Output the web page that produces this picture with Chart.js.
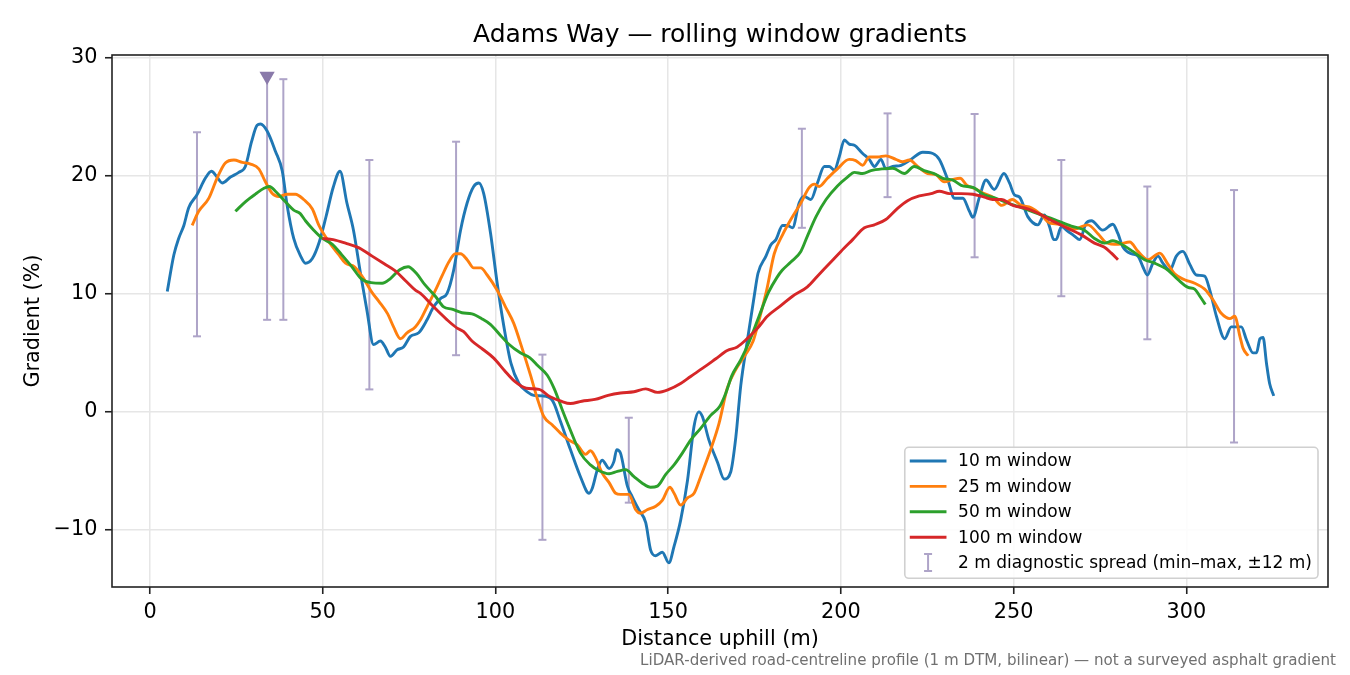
<!DOCTYPE html>
<html>
<head>
<meta charset="utf-8">
<title>Adams Way — rolling window gradients</title>
<script src="https://cdn.jsdelivr.net/npm/chart.js@4.4.1/dist/chart.umd.min.js"></script>
<style>
    html, body { margin: 0; padding: 0; background: #fff; }
    #chart { display: block; }
</style>
</head>
<body>
<canvas id="chart" width="1350" height="675"></canvas>
<script>
// Chart data
const windowLabels = ["10 m window", "25 m window", "50 m window", "100 m window"];
const spreadLabel = "2 m diagnostic spread (min\u2013max, \u00b112 m)";

const dist10 = [5.0, 6.9, 8.3, 9.8, 11.2, 13.6, 16.0, 17.8, 19.4, 20.9, 23.3, 25.7, 27.6, 29.4, 31.0, 32.0, 33.9, 36.3, 38.3, 39.7,
    41.6, 43.6, 45.0, 47.0, 49.0, 51.0, 53.0, 55.0, 57.0, 58.9, 60.9, 62.8, 64.7, 66.7, 68.1, 69.6, 71.5, 73.4, 75.4, 77.8,
    80.2, 82.1, 84.1, 86.0, 87.9, 89.9, 91.8, 93.7, 95.2, 96.6, 98.6, 100.5, 102.4, 104.5, 106.8, 109.2, 111.1, 113.5, 116.4, 118.8,
    121.7, 124.6, 127.1, 128.0, 129.5, 130.9, 132.9, 134.3, 135.1, 136.2, 138.2, 139.6, 141.5, 143.5, 144.9, 146.4, 148.3, 150.2, 151.7, 153.6,
    155.6, 157.5, 158.9, 159.9, 161.8, 164.3, 166.2, 168.1, 169.6, 171.0, 172.9, 174.9, 176.0, 178.3, 179.7, 181.2, 183.1, 184.5, 186.0, 187.9,
    189.4, 191.3, 193.2, 195.2, 196.6, 198.1, 199.5, 201.0, 202.4, 203.9, 206.3, 208.2, 209.7, 211.6, 213.0, 215.0, 217.4, 220.3, 223.7, 226.6,
    228.5, 230.9, 232.9, 235.3, 237.2, 238.2, 240.1, 242.0, 244.4, 247.2, 248.8, 250.2, 251.7, 254.1, 257.0, 258.9, 260.4, 261.6, 262.3, 263.8,
    265.7, 267.6, 269.1, 271.0, 272.5, 275.8, 278.7, 280.2, 281.6, 284.1, 286.0, 287.4, 288.7, 290.3, 291.8, 293.2, 295.2, 297.1, 299.0, 301.0,
    302.9, 305.3, 306.8, 308.7, 311.1, 313.0, 315.9, 317.4, 319.3, 320.3, 321.3, 322.2, 323.2, 324.1, 325.3];
const grad10 = [10.2, 13.3, 14.7, 15.8, 17.3, 18.4, 19.8, 20.4, 19.9, 19.4, 19.9, 20.3, 20.8, 22.9, 24.3, 24.4, 23.8, 22.1, 20.4, 17.5,
    14.7, 13.2, 12.6, 13.0, 14.4, 16.6, 19.0, 20.4, 17.7, 15.4, 11.8, 8.6, 5.7, 6.0, 5.5, 4.7, 5.25, 5.5, 6.4, 6.7,
    7.8, 8.9, 9.6, 10.05, 12.0, 15.4, 17.7, 19.1, 19.4, 18.5, 15.1, 10.9, 7.3, 4.1, 2.4, 1.7, 1.4, 1.35, 1.0, -0.8,
    -3.2, -5.5, -6.9, -6.5, -4.9, -4.1, -4.8, -4.2, -3.2, -3.5, -6.3, -7.2, -8.3, -9.4, -11.7, -12.2, -11.9, -12.8, -11.4, -9.2,
    -5.8, -1.2, 0.0, -0.4, -2.4, -4.3, -5.7, -5.1, -2.1, 2.2, 6.0, 9.8, 11.75, 13.2, 14.15, 14.6, 15.8, 15.8, 15.6, 17.7,
    18.25, 18.0, 19.4, 20.8, 20.8, 20.5, 21.6, 23.05, 22.7, 22.6, 21.9, 21.4, 20.8, 21.4, 20.6, 20.8, 20.9, 21.4, 22.0, 21.9,
    21.4, 19.7, 18.1, 18.1, 17.0, 16.5, 18.2, 19.65, 18.85, 20.2, 19.4, 18.4, 18.2, 16.55, 15.85, 16.7, 15.7, 14.6, 14.6, 15.7,
    15.3, 14.9, 14.6, 16.0, 16.2, 15.4, 15.9, 15.1, 14.0, 13.4, 13.2, 12.3, 11.6, 12.6, 13.2, 12.6, 12.0, 13.2, 13.6, 12.5,
    11.6, 11.5, 10.3, 8.1, 6.2, 7.2, 7.2, 6.1, 5.0, 5.0, 6.2, 6.3, 4.1, 2.4, 1.35];

const dist25 = [12.2, 14.1, 17.0, 19.4, 21.8, 24.3, 26.7, 29.1, 31.5, 33.4, 35.4, 37.3, 39.7, 42.1, 44.5, 47.0, 48.9, 51.8, 54.7, 56.6,
    59.2, 61.6, 64.3, 66.3, 68.8, 70.5, 72.5, 74.4, 76.8, 78.3, 80.2, 82.6, 84.5, 86.5, 88.4, 89.9, 91.8, 93.7, 95.7, 97.6,
    100.5, 102.9, 105.3, 107.7, 110.1, 112.1, 114.0, 116.4, 118.8, 121.3, 123.7, 126.1, 127.5, 129.0, 130.9, 132.9, 134.8, 136.2, 138.6, 140.6,
    142.0, 143.9, 146.4, 148.3, 150.5, 151.7, 153.6, 155.6, 157.5, 159.4, 162.3, 164.7, 167.1, 169.6, 172.0, 174.6, 176.6, 178.5, 180.7, 183.1,
    185.5, 188.4, 190.8, 192.3, 193.7, 196.1, 199.0, 202.4, 204.3, 206.3, 208.2, 210.6, 213.0, 215.9, 217.9, 219.8, 222.2, 225.1, 227.5, 229.9,
    232.4, 234.5, 236.5, 238.9, 241.5, 244.0, 246.6, 249.6, 252.2, 255.1, 258.0, 260.4, 263.8, 267.6, 271.5, 274.4, 276.8, 280.2, 283.6, 286.0,
    288.9, 292.3, 294.7, 296.6, 299.5, 302.4, 305.3, 307.7, 310.1, 312.6, 314.0, 315.5, 316.4, 317.9];
const grad25 = [15.8, 17.0, 18.1, 19.8, 21.1, 21.35, 21.15, 21.0, 20.6, 19.5, 18.5, 18.25, 18.45, 18.45, 18.0, 17.2, 15.8, 14.4, 13.3, 12.6,
    12.3, 11.4, 10.1, 9.35, 8.3, 7.2, 6.2, 6.7, 7.2, 7.8, 8.9, 10.3, 11.5, 12.7, 13.4, 13.4, 12.9, 12.2, 12.2, 11.6,
    10.3, 8.9, 7.5, 5.4, 3.15, 1.15, -0.4, -1.1, -1.8, -2.4, -2.8, -3.6, -3.3, -3.9, -5.2, -6.0, -6.9, -7.0, -7.0, -8.3,
    -8.6, -8.3, -8.0, -7.5, -6.4, -6.9, -7.9, -7.3, -6.9, -5.5, -3.2, -1.0, 2.0, 3.6, 4.7, 6.0, 8.1, 10.3, 13.4, 15.0,
    16.3, 17.7, 19.0, 19.3, 19.1, 19.8, 20.6, 21.4, 21.3, 20.9, 21.6, 21.6, 21.7, 21.4, 21.2, 21.35, 20.8, 20.2, 20.1, 19.5,
    19.7, 19.8, 19.2, 18.9, 18.5, 18.2, 17.5, 18.0, 17.5, 17.3, 16.7, 16.0, 15.9, 15.5, 15.85, 15.1, 14.35, 14.2, 14.4, 13.6,
    12.9, 13.45, 12.5, 11.7, 11.2, 10.9, 10.4, 9.5, 8.35, 7.9, 8.1, 6.4, 5.4, 4.75];

const dist50 = [24.7, 27.6, 30.5, 33.0, 34.6, 36.3, 39.2, 41.6, 43.5, 45.0, 47.4, 49.9, 52.8, 55.4, 58.3, 61.1, 64.0, 67.2, 69.6, 72.3,
    74.7, 77.1, 79.5, 82.6, 85.0, 87.4, 90.3, 93.2, 96.0, 98.6, 101.4, 103.8, 107.2, 109.9, 112.3, 115.0, 117.1, 119.3, 121.2, 124.6,
    127.5, 130.0, 132.9, 135.3, 137.7, 140.1, 142.5, 144.9, 146.9, 149.3, 151.7, 154.1, 156.5, 159.4, 162.3, 164.9, 166.7, 168.4, 171.0, 173.6,
    176.3, 179.0, 181.5, 183.0, 185.5, 188.4, 190.3, 192.8, 195.7, 199.0, 201.9, 203.9, 206.3, 208.7, 212.1, 215.0, 218.4, 221.2, 224.1, 227.0,
    229.5, 232.4, 234.8, 238.4, 241.5, 244.9, 248.8, 252.4, 257.0, 261.8, 266.7, 270.5, 273.4, 276.3, 278.7, 281.6, 284.5, 287.9, 290.8, 294.7,
    297.6, 300.5, 302.4, 303.9, 305.5];
const grad50 = [17.0, 17.8, 18.45, 18.95, 19.1, 18.7, 17.8, 17.1, 16.8, 16.2, 15.4, 14.7, 14.2, 13.35, 12.35, 11.3, 10.95, 10.9, 11.3, 12.05,
    12.3, 11.75, 10.8, 9.8, 8.9, 8.7, 8.4, 8.3, 7.9, 7.4, 6.5, 5.75, 5.0, 4.6, 3.9, 3.1, 1.9, 0.2, -1.2, -3.5,
    -4.5, -5.0, -5.25, -5.05, -4.9, -5.5, -6.05, -6.4, -6.3, -5.3, -4.5, -3.5, -2.4, -1.4, -0.3, 0.45, 1.6, 3.05, 4.4, 6.05,
    8.1, 10.1, 11.4, 12.0, 12.7, 13.6, 14.9, 16.55, 18.0, 19.15, 19.9, 20.3, 20.2, 20.45, 20.6, 20.65, 20.2, 20.8, 20.45, 20.2,
    19.8, 19.65, 19.2, 19.0, 18.4, 18.1, 17.65, 17.3, 16.8, 16.3, 15.75, 15.4, 14.7, 14.3, 14.5, 14.15, 13.6, 12.9, 12.6, 12.0,
    11.2, 10.55, 10.4, 9.8, 9.1];

const dist100 = [49.9, 53.0, 56.6, 60.5, 64.3, 67.8, 71.0, 74.2, 76.9, 78.3, 82.1, 86.0, 88.9, 90.8, 93.2, 95.9, 99.5, 102.6, 105.5, 108.9,
    112.6, 115.7, 119.0, 121.7, 125.0, 128.8, 132.6, 136.2, 140.1, 143.5, 146.9, 150.2, 153.6, 156.5, 160.0, 163.8, 167.1, 170.0, 172.5, 175.9,
    178.7, 182.6, 186.0, 190.3, 193.2, 197.1, 200.0, 203.4, 206.8, 209.7, 213.0, 216.4, 219.3, 222.7, 226.1, 228.5, 231.4, 234.8, 238.2, 241.5,
    243.9, 246.4, 249.8, 254.1, 258.0, 261.8, 265.7, 269.6, 273.4, 276.3, 278.3, 280.2];
const grad100 = [14.7, 14.6, 14.3, 13.9, 13.2, 12.55, 11.95, 11.05, 10.3, 10.05, 8.9, 7.8, 7.1, 6.8, 6.0, 5.4, 4.55, 3.5, 2.6, 2.0,
    1.9, 1.3, 0.9, 0.7, 0.9, 1.05, 1.4, 1.6, 1.7, 1.95, 1.65, 1.9, 2.4, 3.0, 3.7, 4.5, 5.2, 5.5, 6.1, 7.1,
    8.1, 9.0, 9.8, 10.6, 11.5, 12.7, 13.6, 14.6, 15.6, 15.85, 16.3, 17.25, 17.9, 18.3, 18.5, 18.7, 18.5, 18.5, 18.45, 18.2,
    18.0, 18.0, 17.5, 17.2, 16.7, 16.1, 15.55, 15.0, 14.3, 13.95, 13.45, 12.9];

// 2 m diagnostic spread: min-max bars (the second one runs off the top of the axis)
const spreadDist = [13.6, 33.9, 38.6, 63.5, 88.6, 113.6, 138.6, 188.7, 213.5, 238.7, 263.8, 288.7, 313.8];
const spreadMin = [6.4, 7.8, 7.8, 1.9, 4.8, -10.85, -7.7, 15.6, 18.2, 13.1, 9.8, 6.15, -2.6];
const spreadMax = [23.7, 28.45, 28.2, 21.35, 22.9, 4.85, -0.5, 24.0, 25.3, 25.25, 21.35, 19.1, 18.8];
const spreadClipped = [false, true, false, false, false, false, false, false, false, false, false, false, false];

const xTicks = [0, 50, 100, 150, 200, 250, 300];
const yTicks = [-10, 0, 10, 20, 30];

const FONT = "'DejaVu Sans', 'Liberation Sans', sans-serif";
const lineColors = ['#1f77b4', '#ff7f0e', '#2ca02c', '#d62728'];
const spreadColor = '#aea4c8';
const clipColor = '#8a7aaa';

// Build {x, y} point lists
function toPoints(xs, ys) {
    return xs.map((x, i) => ({ x: x, y: ys[i] }));
}

// Error bars as one line dataset: bottom, top, gap
function spreadPoints() {
    const pts = [];
    spreadDist.forEach((x, i) => {
        pts.push({ x: x, y: spreadMin[i] });
        pts.push({ x: x, y: spreadMax[i] });
        pts.push({ x: x, y: null });
    });
    return pts;
}

function isClippedTop(ctx) {
    return ctx.dataIndex % 3 === 1 && spreadClipped[Math.floor(ctx.dataIndex / 3)];
}

function lineDataset(i, xs, ys) {
    return {
        label: windowLabels[i],
        data: toPoints(xs, ys),
        borderColor: lineColors[i],
        backgroundColor: lineColors[i],
        borderWidth: 2.9,
        pointRadius: 0,
        fill: false,
        cubicInterpolationMode: 'monotone',
        order: 4 - i
    };
}

// Title, frame, legend and footnote
const decorPlugin = {
    id: 'decor',
    afterDraw(chart) {
        const ctx = chart.ctx;
        const area = chart.chartArea;
        ctx.save();

        // axes frame
        ctx.strokeStyle = '#222';
        ctx.lineWidth = 1.6;
        ctx.strokeRect(area.left, area.top, area.right - area.left, area.bottom - area.top);

        // title
        ctx.fillStyle = '#000';
        ctx.font = `25px ${FONT}`;
        ctx.textAlign = 'center';
        ctx.textBaseline = 'alphabetic';
        ctx.fillText('Adams Way \u2014 rolling window gradients', (area.left + area.right) / 2, 42);

        // footnote
        ctx.fillStyle = '#707070';
        ctx.font = `15.1px ${FONT}`;
        ctx.textAlign = 'right';
        ctx.fillText('LiDAR-derived road-centreline profile (1 m DTM, bilinear) \u2014 not a surveyed asphalt gradient', 1336, 664.5);

        // legend (lower right, inside the axes)
        ctx.font = `17px ${FONT}`;
        const labels = windowLabels.concat([spreadLabel]);
        const textW = Math.max(...labels.map(l => ctx.measureText(l).width));
        const boxW = 53.3 + textW + 6;
        const boxH = 131;
        const boxR = area.right - 10;
        const boxB = area.bottom - 8.7;
        const boxL = boxR - boxW;
        const boxT = boxB - boxH;
        ctx.beginPath();
        ctx.roundRect(boxL, boxT, boxW, boxH, 4);
        ctx.fillStyle = 'rgba(255,255,255,0.85)';
        ctx.fill();
        ctx.strokeStyle = '#d0d0d0';
        ctx.lineWidth = 1.6;
        ctx.stroke();

        const rowGap = 25.4;
        ctx.textAlign = 'left';
        ctx.textBaseline = 'middle';
        labels.forEach((label, i) => {
            const y = boxT + 13.7 + i * rowGap;
            if (i < windowLabels.length) {
                ctx.strokeStyle = lineColors[i];
                ctx.lineWidth = 2.9;
                ctx.beginPath();
                ctx.moveTo(boxL + 5, y);
                ctx.lineTo(boxL + 41.7, y);
                ctx.stroke();
            } else {
                const hx = boxL + 23.3;
                ctx.strokeStyle = spreadColor;
                ctx.lineWidth = 2;
                ctx.beginPath();
                ctx.moveTo(hx, y - 8.5);
                ctx.lineTo(hx, y + 8.5);
                ctx.moveTo(hx - 4, y - 8.5);
                ctx.lineTo(hx + 4, y - 8.5);
                ctx.moveTo(hx - 4, y + 8.5);
                ctx.lineTo(hx + 4, y + 8.5);
                ctx.stroke();
            }
            ctx.fillStyle = '#000';
            ctx.fillText(label, boxL + 53.3, y + 1);
        });

        ctx.restore();
    }
};

const tickFont = { family: FONT, size: 20.8 };

new Chart(document.getElementById('chart'), {
    type: 'line',
    data: {
        datasets: [
            lineDataset(0, dist10, grad10),
            lineDataset(1, dist25, grad25),
            lineDataset(2, dist50, grad50),
            lineDataset(3, dist100, grad100),
            {
                label: spreadLabel,
                data: spreadPoints(),
                borderColor: spreadColor,
                borderWidth: 2,
                spanGaps: false,
                fill: false,
                order: 10,
                pointStyle: ctx => isClippedTop(ctx) ? 'triangle' : 'line',
                pointRadius: ctx => isClippedTop(ctx) ? 6.8 : 4,
                pointRotation: ctx => isClippedTop(ctx) ? 180 : 0,
                pointBorderWidth: 2,
                pointBorderColor: ctx => isClippedTop(ctx) ? clipColor : spreadColor,
                pointBackgroundColor: clipColor
            }
        ]
    },
    options: {
        responsive: false,
        animation: false,
        events: [],
        layout: { padding: { left: 0, right: 22, top: 55, bottom: 0 } },
        plugins: {
            legend: { display: false },
            title: { display: false },
            tooltip: { enabled: false }
        },
        scales: {
            x: {
                type: 'linear',
                min: -11,
                max: 341,
                afterBuildTicks: scale => { scale.ticks = xTicks.map(v => ({ value: v })); },
                afterFit: scale => { scale.height = 88; },
                border: { display: false },
                grid: { color: '#e6e6e6', lineWidth: 1.5, drawTicks: true, tickLength: 7, tickColor: '#222', tickWidth: 1.6 },
                ticks: { font: tickFont, color: '#000', padding: 6, maxRotation: 0, autoSkip: false },
                title: { display: true, text: 'Distance uphill (m)', font: tickFont, color: '#000', padding: { top: 0, bottom: 22.5 } }
            },
            y: {
                type: 'linear',
                min: -14.85,
                max: 30.25,
                afterBuildTicks: scale => { scale.ticks = yTicks.map(v => ({ value: v })); },
                afterFit: scale => { scale.width = 112; },
                border: { display: false },
                grid: { color: '#e6e6e6', lineWidth: 1.5, drawTicks: true, tickLength: 7, tickColor: '#222', tickWidth: 1.6 },
                ticks: {
                    font: tickFont,
                    color: '#000',
                    padding: 7.5,
                    callback: v => v < 0 ? '\u2212' + Math.abs(v) : String(v)
                },
                title: { display: true, text: 'Gradient (%)', font: tickFont, color: '#000', padding: { top: 21.5, bottom: 0 } }
            }
        }
    },
    plugins: [decorPlugin]
});
</script>
</body>
</html>
